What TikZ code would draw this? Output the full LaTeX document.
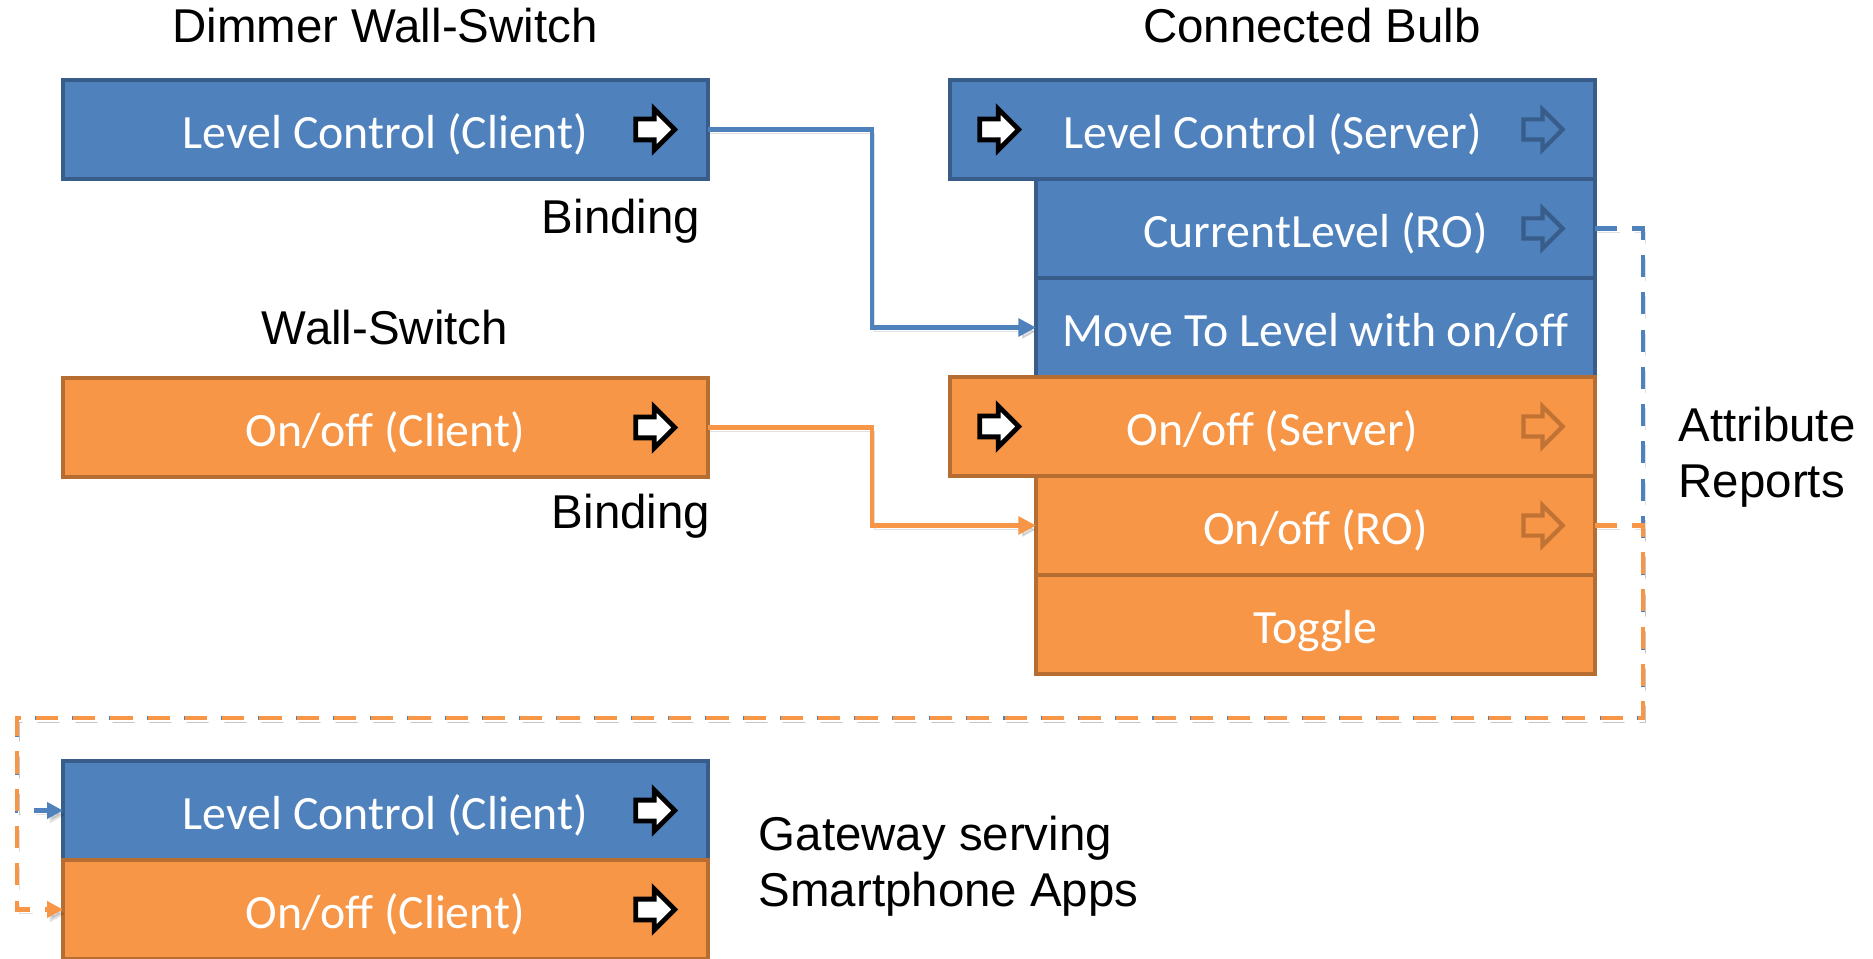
\documentclass[tikz,border=0pt]{standalone}
\usepackage{fontspec}
\setmainfont{Liberation Sans}
\newfontfamily\cellfont{Carlito}
\usetikzlibrary{arrows.meta, positioning, shapes.arrows}
\definecolor{cellblue}{RGB}{79,129,189}
\definecolor{edgeblue}{RGB}{56,93,138}
\definecolor{cellorange}{RGB}{247,150,70}
\definecolor{edgeorange}{RGB}{182,109,49}

\tikzset{
  cell/.style={draw, line width=1.1pt, minimum height=0.99cm, inner sep=0pt, outer sep=0pt,
    text=white, text height=13.2pt, text depth=2.6pt, font=\cellfont\fontsize{13.6}{16}\selectfont},
  bluecell/.style={cell, fill=cellblue, draw=edgeblue},
  orangecell/.style={cell, fill=cellorange, draw=edgeorange},
  wide/.style={minimum width=6.45cm},
  narrow/.style={minimum width=5.59cm},
  cmdarrow/.style={single arrow, draw=black, fill=white, line width=1.4pt, outer sep=0pt,
    minimum height=0.39cm, minimum width=0.39cm, inner sep=0.08cm, single arrow head extend=0.1cm},
  ghostarrow/.style={cmdarrow, fill=none, line width=1.2pt},
  txt/.style={inner sep=0pt, font=\fontsize{13.5}{16}\selectfont},
  bind/.style={preaction={draw=black, opacity=0.12, transform canvas={shift={(0.7pt,-1.2pt)}}},
    line width=1.15pt, -{Triangle[length=5pt,width=5pt]}},
  report/.style={preaction={draw=black, opacity=0.12, dash pattern=on 6.3pt off 4.3pt,
      transform canvas={shift={(0.7pt,-1.2pt)}}},
    line width=1.4pt, dash pattern=on 6.3pt off 4.3pt, -{Triangle[length=4.5pt,width=4.5pt]}}
}

\begin{document}
\begin{tikzpicture}
  \useasboundingbox (0,0) rectangle (18.73,-9.59);

  % titles and notes
  \node[txt] (dimTitle) at (3.85,-0.26) {Dimmer Wall-Switch};
  \node[txt] (bulbTitle) at (13.12,-0.26) {Connected Bulb};
  \node[txt] (wallTitle) at (3.85,-3.28) {Wall-Switch};
  \node[txt] (bindA) at (6.21,-2.21) {Binding};
  \node[txt] (bindB) at (6.31,-5.16) {Binding};
  \node[txt, anchor=west, align=left] (rptNote) at (16.78,-4.57) {Attribute\\Reports};
  \node[txt, anchor=west, align=left] (gwNote) at (7.58,-8.66) {Gateway serving\\Smartphone Apps};

  % switches
  \node[bluecell, wide] (dimLC) at (3.855,-1.295) {Level Control (Client)};
  \node[orangecell, wide] (wallOnOff) at (3.855,-4.275) {On/off (Client)};

  % bulb
  \node[bluecell, wide] (lcSrv) at (12.725,-1.295) {Level Control (Server)};
  \node[bluecell, narrow, anchor=north east] (curLvl) at (lcSrv.south east) {CurrentLevel (RO)};
  \node[bluecell, narrow, anchor=north east] (moveLvl) at (curLvl.south east) {Move To Level with on/off};
  \node[orangecell, wide, anchor=north east] (onoffSrv) at (moveLvl.south east) {On/off (Server)};
  \node[orangecell, narrow, anchor=north east] (onoffRO) at (onoffSrv.south east) {On/off (RO)};
  \node[orangecell, narrow, anchor=north east] (toggle) at (onoffRO.south east) {Toggle};

  % gateway
  \node[bluecell, wide] (gwLC) at (3.855,-8.105) {Level Control (Client)};
  \node[orangecell, wide, anchor=north] (gwOnOff) at (gwLC.south) {On/off (Client)};

  % arrow icons
  \foreach \nm in {dimLC, wallOnOff, gwLC, gwOnOff} {
    \node[cmdarrow] (\nm-out) at ([xshift=-0.58cm]\nm.east) {};
  }
  \foreach \nm in {lcSrv, onoffSrv} {
    \node[cmdarrow] (\nm-in) at ([xshift=0.44cm]\nm.west) {};
  }
  \foreach \nm in {lcSrv, curLvl} {
    \node[ghostarrow, draw=edgeblue] (\nm-out) at ([xshift=-0.57cm]\nm.east) {};
  }
  \foreach \nm in {onoffSrv, onoffRO} {
    \node[ghostarrow, draw=edgeorange!85!cellorange] (\nm-out) at ([xshift=-0.57cm]\nm.east) {};
  }

  % bindings
  \draw[bind, cellblue] (dimLC.east) -- ++(1.64,0) |- (moveLvl.west);
  \draw[bind, cellorange] (wallOnOff.east) -- ++(1.64,0) |- (onoffRO.west);

  % attribute reports
  \coordinate (rptR) at (16.43,-7.18);
  \coordinate (rptL) at (0.17,-7.18);
  \draw[report, cellblue] (curLvl.east) -| (rptR) -- (rptL) |- (gwLC.west);
  \draw[report, cellorange] (onoffRO.east) -| (rptR) -- (rptL) |- (gwOnOff.west);
\end{tikzpicture}
\end{document}
